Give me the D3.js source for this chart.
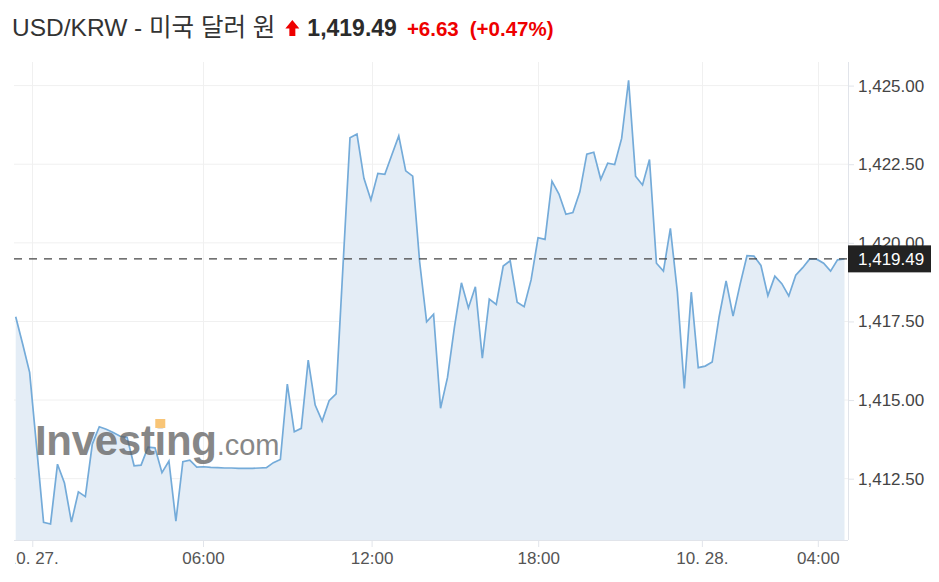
<!DOCTYPE html>
<html><head><meta charset="utf-8">
<script src="https://cdn.jsdelivr.net/npm/d3@7"></script>
<style>
body{margin:0;background:#fff;}
svg{display:block;font-family:"Liberation Sans",Arial,"Noto Sans CJK KR",sans-serif;}
</style></head><body><svg id="chart" width="939" height="582"></svg>
<script>
// ---- data ----
const titleText = "USD/KRW - 미국 달러 원";
const lastPrice = 1419.49;
const changeText = "+6.63";
const changePctText = "(+0.47%)";
const values = [
  1417.65,1416.78,1415.88,1413.51,1411.11,1411.06,1412.96,1412.36,1411.12,1412.08,
  1411.93,1413.60,1414.15,1414.07,1413.97,1413.85,1413.81,1412.91,1412.93,1413.50,
  1413.48,1412.69,1413.06,1411.15,1413.04,1413.09,1412.87,1412.88,1412.86,1412.85,
  1412.84,1412.84,1412.83,1412.83,1412.83,1412.84,1412.85,1413.01,1413.11,1415.51,
  1413.99,1414.10,1416.27,1414.84,1414.33,1414.98,1415.20,1419.29,1423.34,1423.46,
  1422.05,1421.36,1422.21,1422.18,1422.79,1423.40,1422.29,1422.12,1419.39,1417.49,
  1417.73,1414.74,1415.72,1417.33,1418.73,1417.93,1418.60,1416.33,1418.21,1418.04,
  1419.26,1419.43,1418.11,1417.97,1418.82,1420.16,1420.11,1421.96,1421.55,1420.91,
  1420.96,1421.62,1422.82,1422.88,1422.02,1422.53,1422.49,1423.32,1425.17,1422.12,
  1421.84,1422.65,1419.35,1419.10,1420.46,1418.44,1415.37,1418.43,1416.03,1416.08,
  1416.21,1417.65,1418.79,1417.67,1418.67,1419.59,1419.58,1419.28,1418.32,1418.94,
  1418.70,1418.31,1418.97,1419.21,1419.49,1419.48,1419.35,1419.10,1419.46,1419.49
];
const yTicks = [1412.5, 1415, 1417.5, 1420, 1422.5, 1425];
const xTickLabels = ["10. 27.", "06:00", "12:00", "18:00", "10. 28.", "04:00"];
const xTickIndex = [2.38, 26.89, 51.1, 75.02, 98.52, 115.17];

// ---- layout ----
const W = 939, H = 582;
const pL = 14, pR = 848, pT = 62, pB = 540;
const svg = d3.select("#chart");

const x = d3.scaleLinear().domain([0, values.length - 1]).range([15.7, 844.5]);
const y = d3.scaleLinear().domain([1410.55, 1425.75]).range([pB, pT]);

const defs = svg.append("defs");
defs.append("clipPath").attr("id", "xlabClip").append("rect")
  .attr("x", 15.5).attr("y", 0).attr("width", W - 15.5).attr("height", H - pB);

// grid
const grid = svg.append("g");
grid.selectAll("line.h").data(yTicks).join("line")
  .attr("x1", pL).attr("x2", pR)
  .attr("y1", d => y(d)).attr("y2", d => y(d))
  .attr("stroke", "#f0f0f0").attr("stroke-width", 1);
grid.selectAll("line.v").data(xTickIndex).join("line")
  .attr("x1", d => Math.round(x(d)) + 0.5).attr("x2", d => Math.round(x(d)) + 0.5)
  .attr("y1", pT).attr("y2", pB)
  .attr("stroke", "#f0f0f0").attr("stroke-width", 1);

// area
const area = d3.area().x((d, i) => x(i)).y0(pB).y1(d => y(d));
svg.append("path").datum(values).attr("d", area).attr("fill", "#e4edf6");

// line
const line = d3.line().x((d, i) => x(i)).y(d => y(d));
svg.append("path").datum(values).attr("d", line)
  .attr("fill", "none").attr("stroke", "#74abd9").attr("stroke-width", 1.7);

// watermark
const wm = svg.append("g").attr("opacity", 0.75);
const wmText = wm.append("text").attr("x", 35).attr("y", 455)
  .attr("font-family", "Liberation Sans, Arial, sans-serif").attr("fill", "#606060");
wmText.append("tspan").attr("font-size", 42).attr("font-weight", "bold").attr("letter-spacing", -0.3).text("Investing");
wmText.append("tspan").attr("font-size", 29).text(".com");
try {
  const node = wmText.node();
  const sx = node.getStartPositionOfChar(6).x;
  const ex = node.getEndPositionOfChar(6).x;
  const cx = (sx + ex) / 2;
  wm.append("rect").attr("x", cx - 5).attr("y", 419).attr("width", 10).attr("height", 9)
    .attr("fill", "#f6b24a");
} catch (e) {}

// dashed last price line
svg.append("line")
  .attr("x1", pL).attr("x2", pR)
  .attr("y1", y(lastPrice)).attr("y2", y(lastPrice))
  .attr("stroke", "#444").attr("stroke-width", 1.2).attr("stroke-dasharray", "8,7");

// axes lines
svg.append("line").attr("x1", pR + 0.5).attr("x2", pR + 0.5).attr("y1", pT).attr("y2", pB)
  .attr("stroke", "#e1e4ea");
svg.append("line").attr("x1", pL).attr("x2", pR).attr("y1", pB + 0.5).attr("y2", pB + 0.5)
  .attr("stroke", "#e1e4ea");

// y axis
const yAxis = d3.axisRight(y).tickValues(yTicks).tickFormat(d3.format(",.2f"))
  .tickSize(6).tickPadding(4);
const gy = svg.append("g").attr("transform", `translate(${pR},0)`).call(yAxis);
gy.select(".domain").remove();
gy.selectAll(".tick line").attr("stroke", "#e1e4ea");
gy.selectAll(".tick text").attr("font-size", 17).attr("fill", "#444")
  .attr("font-family", "Liberation Sans, Arial, sans-serif");

// x axis
const xAxis = d3.axisBottom(x).tickValues(xTickIndex)
  .tickFormat((d, i) => xTickLabels[i]).tickSize(7).tickPadding(5);
const gx = svg.append("g").attr("transform", `translate(0,${pB})`)
  .attr("clip-path", "url(#xlabClip)").call(xAxis);
gx.select(".domain").remove();
gx.selectAll(".tick line").attr("stroke", "#e1e4ea");
gx.selectAll(".tick text").attr("font-size", 17).attr("fill", "#555")
  .attr("font-family", "Liberation Sans, Arial, sans-serif");

// last price box
const by = y(lastPrice);
svg.append("rect").attr("x", pR).attr("y", by - 13.5).attr("width", 83).attr("height", 27)
  .attr("fill", "#222");
svg.append("text").attr("x", pR + 10).attr("y", by).attr("dy", "0.35em")
  .attr("font-size", 17).attr("fill", "#fff").text(d3.format(",.2f")(lastPrice));

// title
const tY = 36;
const t1 = svg.append("text").attr("x", 12).attr("y", tY).attr("font-size", 24.5).attr("fill", "#333")
  .text(titleText);
let cur = 12 + t1.node().getComputedTextLength() + 10;
const ax = cur + 7;
svg.append("path")
  .attr("d", `M${ax},20 L${ax + 7},28.5 L${ax + 3},28.5 L${ax + 3},36 L${ax - 3},36 L${ax - 3},28.5 L${ax - 7},28.5 Z`)
  .attr("fill", "#ee0000");
cur = ax + 7 + 8;
const t2 = svg.append("text").attr("x", cur).attr("y", tY).attr("font-size", 23).attr("font-weight", "bold")
  .attr("fill", "#2b2b2b").text(d3.format(",.2f")(lastPrice));
cur += t2.node().getComputedTextLength() + 10;
const t3 = svg.append("text").attr("x", cur).attr("y", tY).attr("font-size", 20.5).attr("font-weight", "bold")
  .attr("fill", "#ee0000").text(changeText);
cur += t3.node().getComputedTextLength() + 11;
svg.append("text").attr("x", cur).attr("y", tY).attr("font-size", 20.5).attr("font-weight", "bold")
  .attr("fill", "#ee0000").text(changePctText);
</script></body></html>
